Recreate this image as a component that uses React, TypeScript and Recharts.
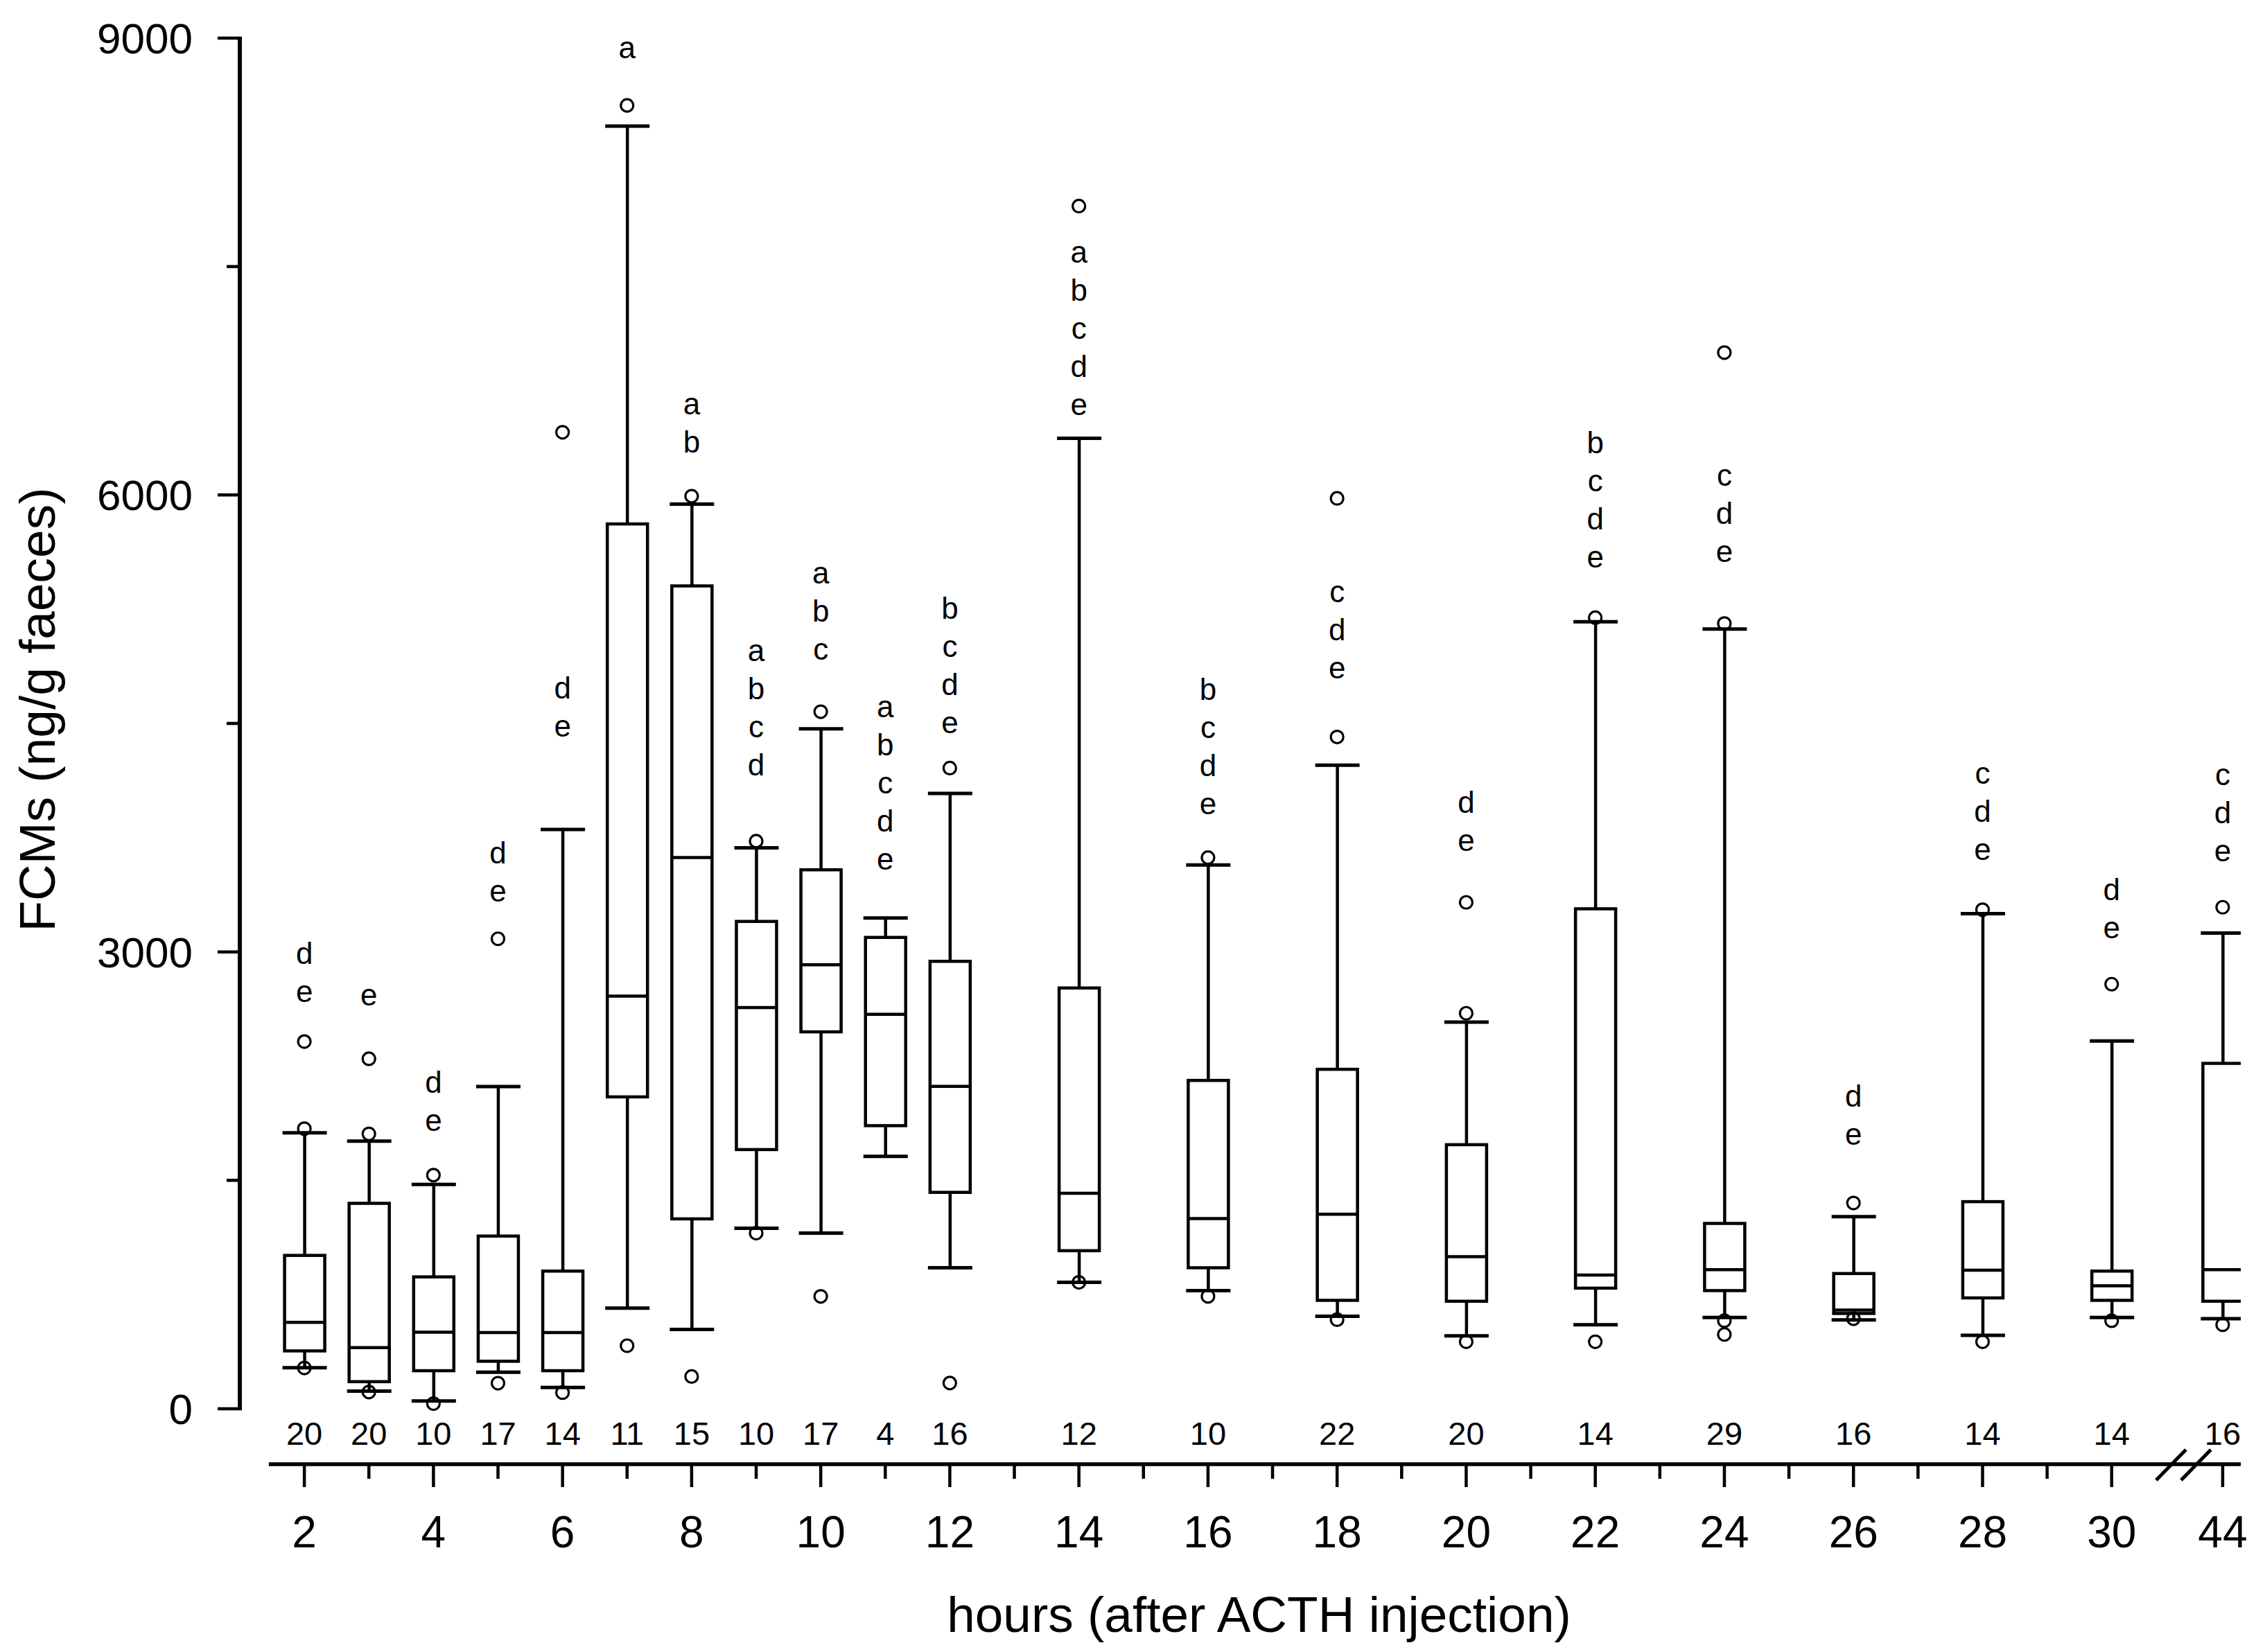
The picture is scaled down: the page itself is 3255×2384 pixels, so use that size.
import React from "react";
import { Bar, ComposedChart, Label, ReferenceLine, Scatter, XAxis, YAxis } from "recharts";

// sampling times (hours after ACTH injection); 44 h sits after the axis break
const HOURS = [2, 3, 4, 5, 6, 7, 8, 9, 10, 11, 12, 14, 16, 18, 20, 22, 24, 26, 28, 30, 44];
const N_SAMPLES = [20, 20, 10, 17, 14, 11, 15, 10, 17, 4, 16, 12, 10, 22, 20, 14, 29, 16, 14, 14, 16];

// box plot statistics, FCMs in ng/g faeces
const WHISKER_LOW = [270, 116, 51, 240, 140, 661, 521, 1185, 1153, 1657, 926, 830, 776, 607, 479, 552, 600, 584, 482, 600, 591];
const Q1 = [380, 178, 250, 312, 250, 2048, 1247, 1702, 2475, 1859, 1421, 1038, 926, 712, 706, 792, 776, 626, 728, 712, 706];
const MEDIAN = [568, 401, 503, 500, 500, 2709, 3620, 2635, 2916, 2590, 2117, 1415, 1249, 1277, 999, 878, 913, 648, 910, 808, 913];
const Q3 = [1007, 1349, 866, 1134, 904, 5810, 5403, 3200, 3539, 3095, 2938, 2763, 2156, 2229, 1734, 3283, 1217, 888, 1360, 904, 2268];
const WHISKER_HIGH = [1812, 1757, 1473, 2116, 3804, 8422, 5940, 3683, 4465, 3223, 4040, 6372, 3571, 4226, 2539, 5168, 5120, 1261, 3251, 2415, 3124];

const OUTLIERS: number[][] = [
  [268, 1839, 2411],
  [110, 1805, 2298],
  [34, 1534],
  [168, 3086],
  [106, 6412],
  [414, 8558],
  [212, 5992],
  [1153, 3727],
  [738, 4577],
  [],
  [169, 4207],
  [830, 7897],
  [738, 3619],
  [585, 4411, 5978],
  [440, 2597, 3325],
  [440, 5194],
  [488, 578, 5156, 6935],
  [591, 1351],
  [440, 3277],
  [578, 2788],
  [552, 3293],
];

// significance letters and the value at the centre of the lowest letter
const LETTERS = ["de", "e", "de", "de", "de", "a", "ab", "abcd", "abc", "abcde", "bcde", "abcde", "bcde", "cde", "de", "bcde", "cde", "de", "cde", "de", "cde"];
const LETTER_BASE = [2730, 2708, 1885, 3390, 4474, 8925, 6340, 4219, 4977, 3600, 4495, 6584, 3964, 4857, 3722, 5581, 5618, 1792, 3665, 3150, 3655];

const Y_TICKS = [0, 1500, 3000, 4500, 6000, 7500, 9000];
const X_TICK_HOURS = [2, 3, 4, 5, 6, 7, 8, 9, 10, 11, 12, 13, 14, 15, 16, 17, 18, 19, 20, 21, 22, 23, 24, 25, 26, 27, 28, 29, 30, 44];

const Y_MIN = -364;
const BREAK_AFTER = 30;
const POS_AFTER_BREAK = 31.72;
const FONT = "'Liberation Sans', Arial, sans-serif";

function axisPos(hour: number) {
  return hour > BREAK_AFTER ? POS_AFTER_BREAK : hour;
}

function hourAt(pos: number) {
  return pos > BREAK_AFTER ? 44 : pos;
}

const boxData = HOURS.map((hour, i) => ({
  pos: axisPos(hour),
  range: [WHISKER_LOW[i], WHISKER_HIGH[i]],
  lo: WHISKER_LOW[i],
  q1: Q1[i],
  med: MEDIAN[i],
  q3: Q3[i],
  hi: WHISKER_HIGH[i],
}));

const outlierData = HOURS.flatMap((hour, i) => OUTLIERS[i].map((value) => ({ pos: axisPos(hour), value })));

const letterData = HOURS.map((hour, i) => ({ pos: axisPos(hour), value: LETTER_BASE[i], letters: LETTERS[i] }));

function BoxShape(props: any) {
  const d = props.payload ?? props;
  const top = Math.min(props.y, props.y + props.height);
  const h = Math.abs(props.height);
  const k = h / (d.hi - d.lo);
  const py = (v: number) => top + h - (v - d.lo) * k;
  const cx = props.x + props.width / 2;
  const half = 29;
  const cap = 32;
  return (
    <g stroke="#000" fill="none">
      <line x1={cx} x2={cx} y1={py(d.hi)} y2={py(d.q3)} strokeWidth={4.5} />
      <line x1={cx} x2={cx} y1={py(d.q1)} y2={py(d.lo)} strokeWidth={4.5} />
      <line x1={cx - cap} x2={cx + cap} y1={py(d.hi)} y2={py(d.hi)} strokeWidth={5} />
      <line x1={cx - cap} x2={cx + cap} y1={py(d.lo)} y2={py(d.lo)} strokeWidth={5} />
      <rect x={cx - half} y={py(d.q3)} width={half * 2} height={py(d.q1) - py(d.q3)} fill="#fff" strokeWidth={4.5} />
      <line x1={cx - half} x2={cx + half} y1={py(d.med)} y2={py(d.med)} strokeWidth={4.5} />
    </g>
  );
}

function OutlierShape(props: any) {
  return <circle cx={props.cx} cy={props.cy} r={9} fill="none" stroke="#000" strokeWidth={3.2} />;
}

function LetterShape(props: any) {
  const letters: string[] = props.payload.letters.split("");
  return (
    <g>
      {letters.map((ch, i) => (
        <text
          key={i}
          x={props.cx}
          y={props.cy - (letters.length - 1 - i) * 55 + 13}
          textAnchor="middle"
          fontSize={44}
          fontFamily={FONT}
          fill="#000"
        >
          {ch}
        </text>
      ))}
    </g>
  );
}

function YTick(props: any) {
  const { x, y, payload } = props;
  const major = payload.value % 3000 === 0;
  return (
    <g>
      <line x1={x + 3} x2={x - (major ? 32 : 19)} y1={y} y2={y} stroke="#000" strokeWidth={4.5} />
      {major ? (
        <text x={x - 68} y={y + 22} textAnchor="end" fontSize={62} fontFamily={FONT} fill="#000">
          {payload.value}
        </text>
      ) : null}
    </g>
  );
}

function XTick(props: any) {
  const { x, y, payload } = props;
  const hour = hourAt(payload.value);
  const labeled = hour % 2 === 0;
  const idx = HOURS.indexOf(hour);
  return (
    <g>
      <line x1={x} x2={x} y1={y} y2={y + (labeled ? 33 : 21)} stroke="#000" strokeWidth={4.5} />
      {labeled ? (
        <text x={x} y={y + 120} textAnchor="middle" fontSize={64} fontFamily={FONT} fill="#000">
          {hour}
        </text>
      ) : null}
      {idx >= 0 ? (
        <text x={x} y={y - 28} textAnchor="middle" fontSize={47} fontFamily={FONT} fill="#000">
          {N_SAMPLES[idx]}
        </text>
      ) : null}
      {hour === 44 ? (
        <g stroke="#000" strokeWidth={5}>
          <line x1={x - 96} y1={y + 23} x2={x - 53} y2={y - 21} />
          <line x1={x - 60} y1={y + 23} x2={x - 17} y2={y - 21} />
        </g>
      ) : null}
    </g>
  );
}

function XTitle(props: any) {
  const vb = props.viewBox;
  return (
    <text x={vb.x + vb.width / 2 + 27} y={vb.y + 242} textAnchor="middle" fontSize={73} fontFamily={FONT} fill="#000">
      hours (after ACTH injection)
    </text>
  );
}

function YTitle(props: any) {
  const vb = props.viewBox;
  const cy = vb.y + vb.height / 2 - 60;
  return (
    <text transform={`translate(71, ${cy}) rotate(-90)`} textAnchor="middle" fontSize={73} fontFamily={FONT} fill="#000">
      FCMs (ng/g faeces)
    </text>
  );
}

export default function App() {
  return (
    <div style={{ width: 3239, height: 2368, background: "#fff", fontFamily: FONT }}>
      <ComposedChart width={3239} height={2368} data={boxData} margin={{ top: 47, right: 14, bottom: 0, left: 0 }}>
        <XAxis
          dataKey="pos"
          type="number"
          domain={[1, 32]}
          allowDataOverflow
          ticks={X_TICK_HOURS.map(axisPos)}
          interval={0}
          height={263}
          axisLine={false}
          tickLine={false}
          tickSize={0}
          tickMargin={0}
          tick={XTick}
        >
          <Label content={XTitle} />
        </XAxis>
        <YAxis
          type="number"
          domain={[Y_MIN, 9000]}
          allowDataOverflow
          ticks={Y_TICKS}
          interval={0}
          width={338}
          axisLine={false}
          tickLine={false}
          tickSize={0}
          tickMargin={0}
          tick={YTick}
        >
          <Label content={YTitle} />
        </YAxis>
        <ReferenceLine
          segment={[
            { x: 1, y: 0 },
            { x: 1, y: 9000 },
          ]}
          stroke="#000"
          strokeWidth={6}
          ifOverflow="visible"
        />
        <ReferenceLine
          segment={[
            { x: 1.45, y: Y_MIN },
            { x: 32, y: Y_MIN },
          ]}
          stroke="#000"
          strokeWidth={5.5}
          ifOverflow="visible"
        />
        <Bar dataKey="range" barSize={58} shape={BoxShape} isAnimationActive={false} />
        <Scatter data={outlierData} dataKey="value" shape={OutlierShape} isAnimationActive={false} />
        <Scatter data={letterData} dataKey="value" shape={LetterShape} isAnimationActive={false} />
      </ComposedChart>
    </div>
  );
}
